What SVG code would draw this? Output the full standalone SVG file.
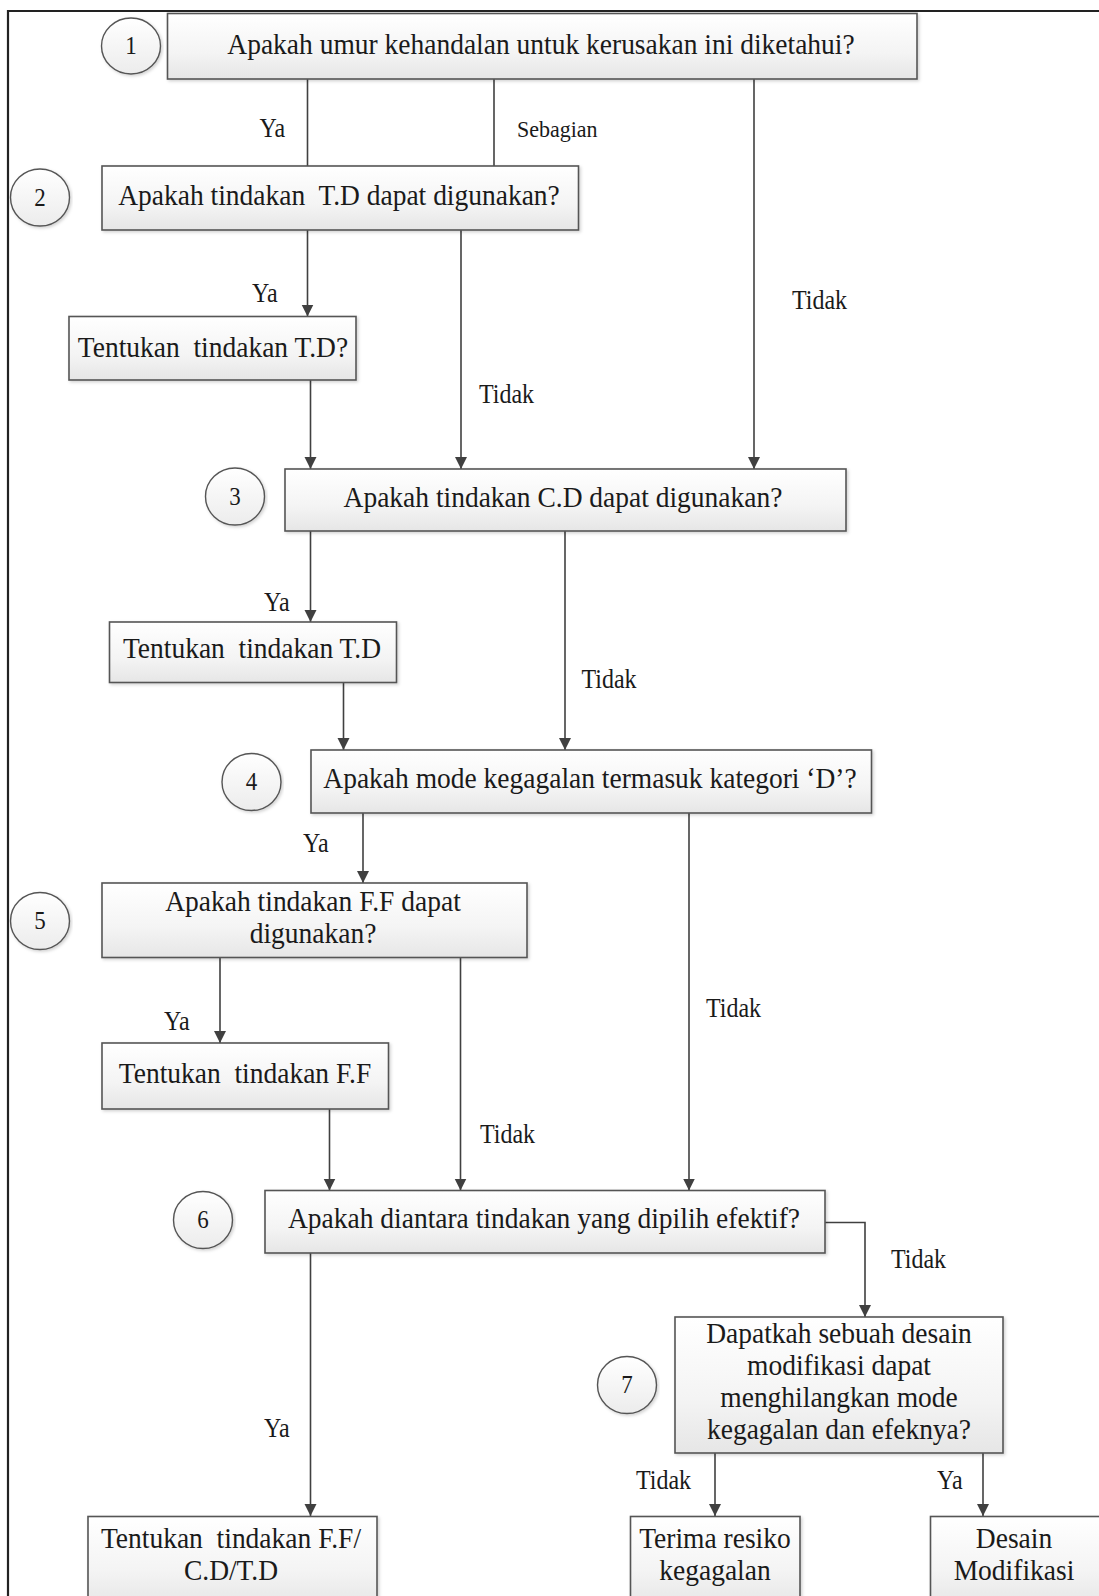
<svg xmlns="http://www.w3.org/2000/svg" width="1099" height="1596" viewBox="0 0 1099 1596">
<defs>
<linearGradient id="bg" x1="0" y1="0" x2="0" y2="1">
<stop offset="0" stop-color="#ffffff"/>
<stop offset="0.6" stop-color="#f4f4f4"/>
<stop offset="1" stop-color="#e6e6e6"/>
</linearGradient>
<linearGradient id="cg" x1="0" y1="0" x2="0" y2="1">
<stop offset="0" stop-color="#ffffff"/>
<stop offset="1" stop-color="#ececec"/>
</linearGradient>
<marker id="ah" markerUnits="userSpaceOnUse" markerWidth="13" markerHeight="13" refX="12" refY="6" orient="auto">
<path d="M0,0 L12,6 L0,12 z" fill="#404040"/>
</marker>
<filter id="sh" x="-5%" y="-10%" width="110%" height="125%">
<feDropShadow dx="1.5" dy="1.5" stdDeviation="1.5" flood-color="#000" flood-opacity="0.18"/>
</filter>
</defs>
<style>
.box{fill:url(#bg);stroke:#555;stroke-width:1.6;filter:url(#sh)}
.cir{fill:url(#cg);stroke:#555;stroke-width:1.4;filter:url(#sh)}
.t{font-family:"Liberation Serif","Times New Roman",serif;font-size:27.5px;fill:#1a1a1a;text-anchor:middle;white-space:pre}
.n{font-family:"Liberation Serif","Times New Roman",serif;font-size:23px;fill:#1a1a1a;text-anchor:middle}
.l{font-family:"Liberation Serif","Times New Roman",serif;font-size:24px;fill:#1a1a1a}
.s{font-family:"Liberation Serif","Times New Roman",serif;font-size:22px;fill:#1a1a1a}
.c{fill:none;stroke:#404040;stroke-width:1.6}
.a{marker-end:url(#ah)}
.frame{fill:none;stroke:#222;stroke-width:2.2}
</style>
<rect width="1099" height="1596" fill="#fff"/>
<path class="frame" d="M8,1596 L8,11 L1099,11"/>

<g id="connectors">
<path class="c" d="M307.5,79 L307.5,166"/>
<path class="c" d="M494,79 L494,166"/>
<path class="c a" d="M754,79 L754,469"/>
<path class="c a" d="M307.5,230 L307.5,316.5"/>
<path class="c a" d="M461,230 L461,469"/>
<path class="c a" d="M310.5,380 L310.5,469"/>
<path class="c a" d="M310.5,531 L310.5,622"/>
<path class="c a" d="M343.5,682.5 L343.5,750"/>
<path class="c a" d="M565,531 L565,750"/>
<path class="c a" d="M363,813 L363,883"/>
<path class="c a" d="M689,813 L689,1190.5"/>
<path class="c a" d="M220,957.5 L220,1043"/>
<path class="c a" d="M329.5,1109 L329.5,1190.5"/>
<path class="c a" d="M460.5,957.5 L460.5,1190.5"/>
<path class="c a" d="M825,1222.5 L865,1222.5 L865,1317"/>
<path class="c a" d="M310.5,1253 L310.5,1516"/>
<path class="c a" d="M715,1453 L715,1516"/>
<path class="c a" d="M983,1453 L983,1516"/>
<g id="labels">
<text class="l" transform="translate(259.5,137) scale(1,1.1)">Ya</text>
<text class="s" transform="translate(517,137) scale(1,1.05)">Sebagian</text>
<text class="l" transform="translate(792,309) scale(1,1.1)">Tidak</text>
<text class="l" transform="translate(252,302) scale(1,1.1)">Ya</text>
<text class="l" transform="translate(479,403) scale(1,1.1)">Tidak</text>
<text class="l" transform="translate(264,611) scale(1,1.1)">Ya</text>
<text class="l" transform="translate(581.5,688) scale(1,1.1)">Tidak</text>
<text class="l" transform="translate(303,852) scale(1,1.1)">Ya</text>
<text class="l" transform="translate(706,1017) scale(1,1.1)">Tidak</text>
<text class="l" transform="translate(164,1030) scale(1,1.1)">Ya</text>
<text class="l" transform="translate(480,1143) scale(1,1.1)">Tidak</text>
<text class="l" transform="translate(891,1268) scale(1,1.1)">Tidak</text>
<text class="l" transform="translate(264,1437) scale(1,1.1)">Ya</text>
<text class="l" transform="translate(636,1489) scale(1,1.1)">Tidak</text>
<text class="l" transform="translate(937,1489) scale(1,1.1)">Ya</text>
</g>
</g>

<g id="n1">
<ellipse class="cir" cx="131" cy="46" rx="29.5" ry="28"/>
<text class="n" transform="translate(131,54) scale(1,1.1)">1</text>
<rect class="box" x="167.5" y="13.5" width="749.5" height="65.5"/>
<text class="t" transform="translate(541,54) scale(1,1.1)">Apakah umur kehandalan untuk kerusakan ini diketahui?</text>
</g>

<g id="n2">
<ellipse class="cir" cx="40" cy="197.5" rx="29.5" ry="28.5"/>
<text class="n" transform="translate(40,205.5) scale(1,1.1)">2</text>
<rect class="box" x="102" y="166" width="476.5" height="64"/>
<text class="t" transform="translate(339,205) scale(1,1.1)">Apakah tindakan  T.D dapat digunakan?</text>
</g>

<g id="n2ya">
<rect class="box" x="69" y="316.5" width="287" height="63.5"/>
<text class="t" transform="translate(213,357) scale(1,1.1)">Tentukan  tindakan T.D?</text>
</g>

<g id="n3">
<ellipse class="cir" cx="235" cy="496.5" rx="29.5" ry="28.5"/>
<text class="n" transform="translate(235,504.5) scale(1,1.1)">3</text>
<rect class="box" x="285" y="469" width="561" height="62"/>
<text class="t" transform="translate(563,507) scale(1,1.1)">Apakah tindakan C.D dapat digunakan?</text>
</g>

<g id="n3ya">
<rect class="box" x="109.5" y="622" width="287" height="60.5"/>
<text class="t" transform="translate(252,658) scale(1,1.1)">Tentukan  tindakan T.D</text>
</g>

<g id="n4">
<ellipse class="cir" cx="251.5" cy="782" rx="29.5" ry="28.5"/>
<text class="n" transform="translate(251.5,790) scale(1,1.1)">4</text>
<rect class="box" x="311" y="750" width="560.5" height="63"/>
<text class="t" transform="translate(590,788) scale(1,1.1)">Apakah mode kegagalan termasuk kategori ‘D’?</text>
</g>

<g id="n5">
<ellipse class="cir" cx="40" cy="921" rx="29.5" ry="28.5"/>
<text class="n" transform="translate(40,929) scale(1,1.1)">5</text>
<rect class="box" x="102" y="883" width="425" height="74.5"/>
<text class="t" transform="translate(313,911) scale(1,1.08)">Apakah tindakan F.F dapat</text>
<text class="t" transform="translate(313,943) scale(1,1.08)">digunakan?</text>
</g>

<g id="n5ya">
<rect class="box" x="102" y="1043" width="286.5" height="66"/>
<text class="t" transform="translate(245,1083) scale(1,1.1)">Tentukan  tindakan F.F</text>
</g>

<g id="n6">
<ellipse class="cir" cx="203" cy="1220" rx="29.5" ry="28.5"/>
<text class="n" transform="translate(203,1228) scale(1,1.1)">6</text>
<rect class="box" x="265" y="1190.5" width="560" height="62.5"/>
<text class="t" transform="translate(544,1228) scale(1,1.1)">Apakah diantara tindakan yang dipilih efektif?</text>
</g>

<g id="n6ya">
<rect class="box" x="88" y="1516.5" width="289" height="90"/>
<text class="t" transform="translate(231,1548) scale(1,1.08)">Tentukan  tindakan F.F/</text>
<text class="t" transform="translate(231,1580) scale(1,1.08)">C.D/T.D</text>
</g>

<g id="n7">
<ellipse class="cir" cx="627" cy="1385" rx="29.5" ry="28.5"/>
<text class="n" transform="translate(627,1393) scale(1,1.1)">7</text>
<rect class="box" x="675" y="1317" width="328" height="136"/>
<text class="t" transform="translate(839,1343) scale(1,1.08)">Dapatkah sebuah desain</text>
<text class="t" transform="translate(839,1375) scale(1,1.08)">modifikasi dapat</text>
<text class="t" transform="translate(839,1407) scale(1,1.08)">menghilangkan mode</text>
<text class="t" transform="translate(839,1439) scale(1,1.08)">kegagalan dan efeknya?</text>
</g>

<g id="n7tidak">
<rect class="box" x="630.5" y="1516.5" width="169.5" height="90"/>
<text class="t" transform="translate(715,1548) scale(1,1.08)">Terima resiko</text>
<text class="t" transform="translate(715,1580) scale(1,1.08)">kegagalan</text>
</g>

<g id="n7ya">
<rect class="box" x="930.5" y="1516.5" width="175" height="90"/>
<text class="t" transform="translate(1014,1548) scale(1,1.08)">Desain</text>
<text class="t" transform="translate(1014,1580) scale(1,1.08)">Modifikasi</text>
</g>
</svg>
